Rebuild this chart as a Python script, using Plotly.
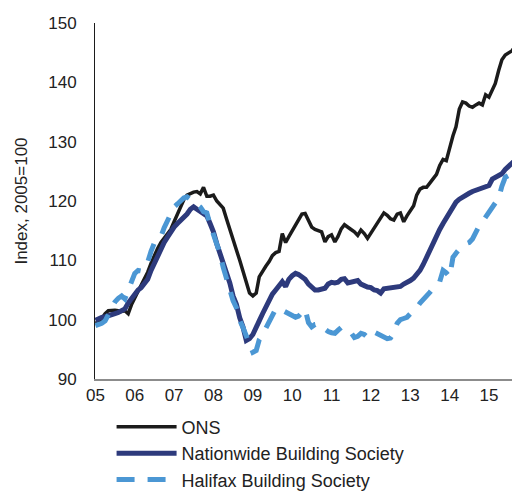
import pandas as pd
import plotly.graph_objects as go

# Monthly house price indices, Jan 2005 onwards (2005=100)
ONS = [
    99.4, 99.6, 100.2, 101.0, 101.5, 101.6, 101.6, 101.5, 101.4, 101.5, 101.0, 102.5,
    103.8, 104.8, 105.8, 106.8, 108.0, 109.5, 110.8, 112.0, 113.0, 113.8, 114.6, 115.2,
    116.5, 117.8, 119.0, 120.2, 121.0, 121.3, 121.5, 121.6, 121.2, 122.3, 120.8, 120.8,
    121.0, 120.0, 119.5, 118.8, 117.0, 115.3, 113.8, 112.0, 110.0, 108.2, 106.5, 104.5,
    104.0, 104.5, 107.2, 108.2, 109.0, 109.8, 110.8, 111.3, 111.5, 114.5, 113.0, 114.0,
    115.0, 116.0, 117.0, 117.8, 117.9, 116.8, 115.6, 115.2, 115.0, 114.8, 113.1, 114.0,
    114.3, 113.1, 114.0, 115.3, 116.0, 115.5, 115.2, 114.8, 114.2, 115.1, 114.5, 113.7,
    114.6, 115.5, 116.2, 117.0, 118.0, 117.6, 117.0, 116.8, 117.8, 118.0, 116.5, 117.5,
    118.5, 119.2, 121.0, 122.0, 122.3, 122.3, 123.0, 123.8, 124.5, 126.0, 127.0, 126.8,
    129.0, 131.0, 132.5, 135.5, 136.7, 136.5, 136.0, 135.8, 136.2, 136.5, 136.2, 137.9,
    137.5, 138.8, 139.8, 142.0, 143.8, 144.6, 145.0, 145.3, 146.0,
]

NATIONWIDE = [
    99.9, 100.2, 100.4, 100.5, 100.6, 100.8, 101.0, 101.2, 101.4, 101.8, 102.8, 103.6,
    104.3, 105.0, 105.4, 106.0, 106.8, 108.3, 109.5, 110.7, 112.0, 113.0, 113.9, 114.8,
    115.6, 116.2, 116.7, 117.2, 117.8, 118.6, 119.0, 118.6, 118.2, 118.0, 117.5, 116.2,
    114.8, 112.8, 111.3, 109.5, 107.8, 106.2, 104.0, 102.6, 100.3, 98.8, 96.5, 96.8,
    97.5, 98.5, 99.8, 101.0, 102.2, 103.3, 104.3, 105.0, 105.6, 106.4, 105.6, 106.8,
    107.4, 107.8, 107.6, 107.2, 106.8, 106.0, 105.4, 105.0, 105.0, 105.2, 105.3, 106.0,
    106.3, 106.2, 106.3, 106.8, 106.9, 106.2, 106.3, 106.5, 106.6, 106.0, 105.7, 105.5,
    105.4, 105.0, 104.9, 104.5, 105.2, 105.3, 105.3, 105.5, 105.5, 105.6, 106.0, 106.2,
    106.6, 107.0, 107.5, 108.3, 109.3, 110.5, 112.0, 113.0, 114.0, 115.2, 116.2, 117.2,
    118.2, 119.2, 119.8, 120.3, 120.7, 121.0, 121.3, 121.6, 121.8, 122.0, 122.2, 122.3,
    122.6, 123.7, 124.0, 124.4, 124.6, 125.3, 125.8, 126.2, 126.8, 127.4,
]

HALIFAX = [
    99.0, 99.1, 99.4, 99.8, 101.0, 102.3, 103.0, 103.6, 104.0, 103.5, 105.0, 106.7,
    107.8, 108.3, 108.2, 108.8, 109.7, 111.5, 112.9, 113.3, 114.0, 115.5, 116.8, 117.8,
    119.0, 119.5, 120.0, 120.5, 120.7, 120.3, 119.8, 119.5, 119.0, 118.2, 118.0, 116.0,
    114.3, 112.9, 111.2, 108.8, 106.8, 105.3, 103.2, 102.0, 99.9, 98.7, 97.2, 95.8,
    94.5, 94.8, 96.6, 97.5, 98.5, 99.5, 100.8, 101.8, 101.9, 101.6, 101.2, 100.8,
    100.5, 100.4, 100.6, 101.2, 101.8, 99.5, 98.8, 99.2, 99.3, 98.8, 98.3, 98.0,
    97.8, 97.7, 98.2, 98.7, 98.6, 98.3, 97.8, 97.0, 97.2, 97.7, 97.5, 97.0,
    97.1, 97.9, 97.6, 97.3, 97.0, 96.8, 96.9, 97.8, 99.4, 100.0, 100.2, 100.4,
    101.0, 101.5, 102.0, 102.8, 103.5, 104.2, 104.6, 105.3, 105.8, 106.4, 108.3, 107.9,
    107.2, 110.5, 111.2, 112.0, 112.5, 112.8, 113.0, 113.6, 114.8, 115.8, 116.5, 117.3,
    118.2, 119.0, 119.8, 120.5, 122.5, 124.0, 124.3, 124.6, 126.0, 127.2,
]

YEAR_LABELS = ['05', '06', '07', '08', '09', '10', '11', '12', '13', '14', '15']

START = pd.Timestamp('2005-01-01')
DATES_ONS = pd.date_range(START, periods=len(ONS), freq='MS')
DATES_NW = pd.date_range(START, periods=len(NATIONWIDE), freq='MS')
DATES_HX = pd.date_range(START, periods=len(HALIFAX), freq='MS')
TICKS = pd.date_range(START, periods=len(YEAR_LABELS), freq='YS')

FONT = 'Liberation Sans, Arial, sans-serif'
TXT = '#222222'

fig = go.Figure()
fig.add_trace(go.Scatter(x=DATES_ONS, y=ONS, mode='lines', name='ONS',
                         legendgroup='a',
                         line=dict(color='#1b1b1b', width=3.5)))
fig.add_trace(go.Scatter(x=DATES_NW, y=NATIONWIDE, mode='lines',
                         name='Nationwide Building Society', legendgroup='b',
                         line=dict(color='#2d3a7c', width=5)))
fig.add_trace(go.Scatter(x=DATES_HX, y=HALIFAX, mode='lines',
                         name='Halifax Building Society', legendgroup='c',
                         line=dict(color='#4b97d4', width=5, dash='18px,13px')))

# page body adds an 8px margin, so the figure is 8px smaller on each side
fig.update_layout(
    width=512, height=483,
    margin=dict(l=87, r=0, t=15, b=112, autoexpand=False),
    paper_bgcolor='white', plot_bgcolor='white',
    font=dict(family=FONT, size=17, color=TXT),
    showlegend=True,
    legend=dict(orientation='v', x=0.039, xanchor='left', y=-0.083, yanchor='top',
                itemwidth=60, tracegroupgap=0, traceorder='grouped',
                font=dict(size=18, color=TXT), bgcolor='rgba(0,0,0,0)'),
)
fig.update_xaxes(
    range=[pd.Timestamp('2004-12-28'), pd.Timestamp('2015-10-16')],
    tickvals=TICKS, ticktext=YEAR_LABELS, showgrid=False, zeroline=False,
    showline=True, linecolor='#8c8c8c', linewidth=1.5, ticks='',
    automargin=False, tickfont=dict(size=17, color=TXT),
)
fig.update_yaxes(
    range=[90, 150], dtick=10, showgrid=False, zeroline=False,
    showline=True, linecolor='#1b1b1b', linewidth=1, ticks='',
    automargin=False, ticklabelstandoff=14, tickfont=dict(size=17, color=TXT),
    title=dict(text='Index, 2005=100', font=dict(size=17, color=TXT), standoff=16),
)

fig.write_html('out.html')
